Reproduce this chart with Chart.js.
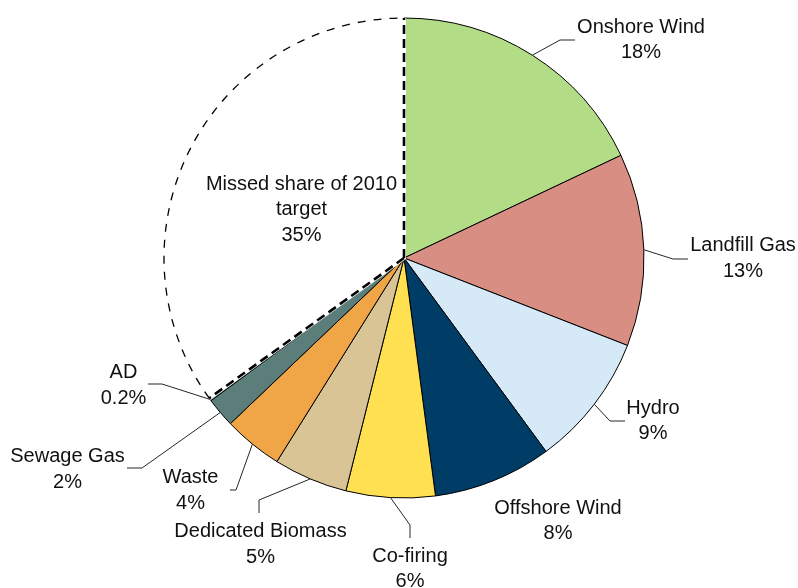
<!DOCTYPE html>
<html>
<head>
<meta charset="utf-8">
<title>Renewable generation against the 2010 target</title>
<script src="https://cdn.jsdelivr.net/npm/chart.js@4.4.1/dist/chart.umd.min.js"></script>
<style>
  html, body { margin: 0; padding: 0; background: #ffffff; }
  canvas { display: block; }
</style>
</head>
<body>
<canvas id="chart" width="798" height="588"></canvas>
<script>
// Contribution of each technology to the 2010 renewables target (%)
const categories = [
  'Onshore Wind', 'Landfill Gas', 'Hydro', 'Offshore Wind', 'Co-firing',
  'Dedicated Biomass', 'Waste', 'Sewage Gas', 'AD', 'Missed share of 2010 target'
];
const shares = [18, 13, 9, 8, 6, 5, 4, 2, 0.2, 35];
const sliceColours = [
  '#b3dc87', '#d98e83', '#d6e9f7', '#003d66', '#ffe050',
  '#d9c496', '#f0a546', '#5b7e7a', '#8fa9a5', '#ffffff'
];

// Label placement, in pixels relative to the pie centre:
// elbow / end = leader line bend and tail, text = centre of the first text line.
const labelPlacement = [
  { elbow: [156, -218], end: [171, -218], text: [237, -232.5] },
  { elbow: [269, 1],    end: [284, 1],    text: [339, -14] },
  { elbow: [206, 163],  end: [221, 163],  text: [249, 148.5] },
  { text: [154, 248.5] },
  { elbow: [6, 267],    end: [6, 280],    text: [6, 296.5] },
  { elbow: [-145, 242], end: [-145, 255], text: [-143.5, 272] },
  { elbow: [-168, 232], end: [-174, 232], text: [-213.5, 218] },
  { elbow: [-262, 210], end: [-277, 210], text: [-336.5, 197] },
  { elbow: [-242, 126], end: [-256, 126], text: [-280.5, 113] },
  { text: [-102.5, -75.5] }
];

const FONT = '20px "Liberation Sans", Arial, sans-serif';
const LINE_GAP = 25.5;

function wrapText(ctx, text, maxWidth) {
  const words = text.split(' ');
  const lines = [];
  let line = '';
  words.forEach(w => {
    const test = line ? line + ' ' + w : w;
    if (line && ctx.measureText(test).width > maxWidth) {
      lines.push(line);
      line = w;
    } else {
      line = test;
    }
  });
  if (line) lines.push(line);
  return lines;
}

// Dashed outline for the unmet share, then leader lines and labels
const pieAnnotations = {
  id: 'pieAnnotations',
  afterDatasetsDraw(chart) {
    const ctx = chart.ctx;
    const meta = chart.getDatasetMeta(0);
    const gapArc = meta.data[categories.length - 1];
    const g = gapArc.getProps(['x', 'y', 'startAngle', 'endAngle', 'outerRadius'], true);
    const rim = a => [g.x + Math.cos(a) * g.outerRadius, g.y + Math.sin(a) * g.outerRadius];
    const [sx, sy] = rim(g.startAngle);
    const [ex, ey] = rim(g.endAngle);

    ctx.save();
    ctx.lineCap = 'butt';
    ctx.strokeStyle = '#ffffff';
    ctx.lineWidth = 4;
    ctx.setLineDash([]);
    ctx.beginPath();
    ctx.moveTo(sx, sy); ctx.lineTo(g.x, g.y); ctx.lineTo(ex, ey);
    ctx.stroke();

    ctx.strokeStyle = '#000000';
    ctx.lineWidth = 2.6;
    ctx.setLineDash([9, 5]);
    ctx.beginPath(); ctx.moveTo(g.x, g.y); ctx.lineTo(sx, sy); ctx.stroke();
    ctx.beginPath(); ctx.moveTo(g.x, g.y); ctx.lineTo(ex, ey); ctx.stroke();

    ctx.lineWidth = 1.3;
    ctx.setLineDash([8, 8]);
    ctx.beginPath();
    ctx.arc(g.x, g.y, g.outerRadius, g.startAngle, g.endAngle);
    ctx.stroke();
    ctx.restore();

    ctx.save();
    ctx.font = FONT;
    ctx.textAlign = 'center';
    ctx.textBaseline = 'alphabetic';
    meta.data.forEach((arc, i) => {
      const place = labelPlacement[i];
      const p = arc.getProps(['x', 'y', 'startAngle', 'endAngle', 'outerRadius'], true);
      if (place.elbow) {
        const mid = (p.startAngle + p.endAngle) / 2;
        const ax = p.x + Math.cos(mid) * p.outerRadius;
        const ay = p.y + Math.sin(mid) * p.outerRadius;
        ctx.strokeStyle = '#262626';
        ctx.lineWidth = 1;
        ctx.setLineDash([]);
        ctx.beginPath();
        ctx.moveTo(ax, ay);
        ctx.lineTo(p.x + place.elbow[0], p.y + place.elbow[1]);
        ctx.lineTo(p.x + place.end[0], p.y + place.end[1]);
        ctx.stroke();
      }
      const lines = wrapText(ctx, categories[i], 200).concat([shares[i] + '%']);
      ctx.fillStyle = '#111111';
      lines.forEach((t, k) => {
        ctx.fillText(t, p.x + place.text[0], p.y + place.text[1] + 7.2 + k * LINE_GAP);
      });
    });
    ctx.restore();
  }
};

new Chart(document.getElementById('chart'), {
  type: 'pie',
  data: {
    labels: categories,
    datasets: [{
      data: shares,
      backgroundColor: sliceColours,
      borderColor: categories.map((c, i) => i === categories.length - 1 ? '#ffffff' : '#000000'),
      borderWidth: categories.map((c, i) => i === categories.length - 1 ? 0 : 1),
      radius: 240
    }]
  },
  options: {
    responsive: false,
    animation: false,
    radius: 240,
    layout: { padding: { left: 10, right: 0, top: 0, bottom: 72 } },
    plugins: {
      legend: { display: false },
      tooltip: { enabled: false }
    }
  },
  plugins: [pieAnnotations]
});
</script>
</body>
</html>
